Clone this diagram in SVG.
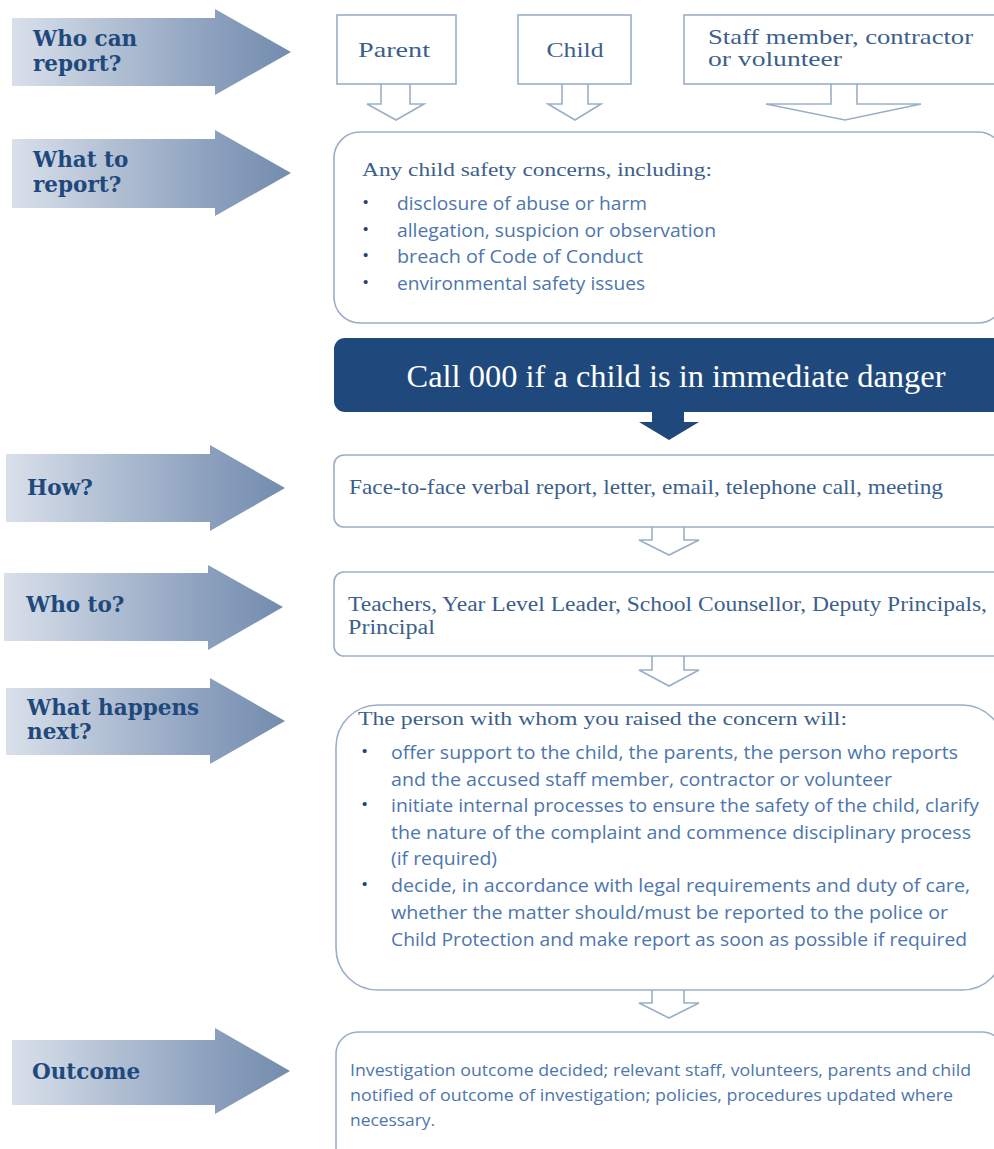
<svg xmlns="http://www.w3.org/2000/svg" width="994" height="1149" viewBox="0 0 994 1149">
<defs>
<linearGradient id="lg" x1="0" y1="0" x2="1" y2="0">
<stop offset="0" stop-color="#d9e0ea"/>
<stop offset="0.7" stop-color="#8ea2bf"/>
<stop offset="1" stop-color="#738cae"/>
</linearGradient>
<style>
.side{fill:url(#lg);}
.lbl{font-family:"DejaVu Serif",serif;font-weight:bold;font-size:21.5px;fill:#1f497d;}
.box{fill:#fff;stroke:#9aaec8;stroke-width:1.6;}
.con{fill:#fff;stroke:#9aaec8;stroke-width:1.6;stroke-linejoin:miter;}
.ser{font-family:"Liberation Serif",serif;fill:#3d5f8c;}
.san{font-family:"Open Sans","Liberation Sans",sans-serif;fill:#4d76ad;}
.bul{font-family:"Liberation Sans",sans-serif;font-size:15px;fill:#2a4468;}
</style>
</defs>
<rect width="994" height="1149" fill="#fff"/>

<g id="side-who-can-report">
<path class="side" d="M12,18 H215 V9 L291,52 L215,95 V86 H12 Z"/>
<text class="lbl" x="33" y="46">Who can</text>
<text class="lbl" x="33" y="71">report?</text>
</g>
<g id="side-what-to-report">
<path class="side" d="M12,139 H215 V130 L291,173 L215,216 V208 H12 Z"/>
<text class="lbl" x="33" y="167">What to</text>
<text class="lbl" x="33" y="192">report?</text>
</g>
<g id="side-how">
<path class="side" d="M6,454 H210 V445 L285,488 L210,531 V522 H6 Z"/>
<text class="lbl" x="27" y="495">How?</text>
</g>
<g id="side-who-to">
<path class="side" d="M4,573 H208 V565 L283,607 L208,650 V641 H4 Z"/>
<text class="lbl" x="26" y="612">Who to?</text>
</g>
<g id="side-what-next">
<path class="side" d="M6,688 H210 V678 L285,721 L210,764 V755 H6 Z"/>
<text class="lbl" x="27" y="715">What happens</text>
<text class="lbl" x="27" y="739">next?</text>
</g>
<g id="side-outcome">
<path class="side" d="M12,1040 H215 V1028 L290,1071 L215,1114 V1105 H12 Z"/>
<text class="lbl" x="32" y="1079">Outcome</text>
</g>

<g id="connectors">
<path class="con" d="M381,84 V104 H367 L396,120 L424,104 H410 V84"/>
<path class="con" d="M562,84 V104 H548 L575,120 L601,104 H588 V84"/>
<path class="con" d="M831,84 V104 H766 L845,120 L921,104 H857 V84"/>
<path d="M652,411 V422 H639 L669,440 L699,422 H684 V411 Z" fill="#1f497d"/>
<path class="con" d="M652,527 V540 H639 L669,555 L699,540 H684 V527"/>
<path class="con" d="M652,656 V670 H639 L669,686 L699,670 H684 V656"/>
<path class="con" d="M652,990 V1003 H639 L669,1018 L699,1003 H684 V990"/>
</g>

<g id="node-parent">
<rect class="box" x="337" y="15" width="119" height="69"/>
<text class="ser" x="394" y="57" font-size="21.5" text-anchor="middle" textLength="72" lengthAdjust="spacingAndGlyphs">Parent</text>
</g>
<g id="node-child">
<rect class="box" x="518" y="15" width="113" height="69"/>
<text class="ser" x="575" y="57" font-size="21.5" text-anchor="middle" textLength="57" lengthAdjust="spacingAndGlyphs">Child</text>
</g>
<g id="node-staff">
<rect class="box" x="684" y="15" width="320" height="69"/>
<text class="ser" x="708" y="44" font-size="21" textLength="265" lengthAdjust="spacingAndGlyphs">Staff member, contractor</text>
<text class="ser" x="708" y="66" font-size="21" textLength="134" lengthAdjust="spacingAndGlyphs">or volunteer</text>
</g>

<g id="node-what">
<rect class="box" x="334" y="132" width="670" height="191" rx="26"/>
<text class="ser" x="362" y="176" font-size="19" textLength="350" lengthAdjust="spacingAndGlyphs">Any child safety concerns, including:</text>
<text class="bul" x="363" y="207">•</text>
<text class="bul" x="363" y="234">•</text>
<text class="bul" x="363" y="260">•</text>
<text class="bul" x="363" y="287">•</text>
<text class="san" x="397" y="210" font-size="18" textLength="250" lengthAdjust="spacingAndGlyphs">disclosure of abuse or harm</text>
<text class="san" x="397" y="237" font-size="18" textLength="319" lengthAdjust="spacingAndGlyphs">allegation, suspicion or observation</text>
<text class="san" x="397" y="263" font-size="18" textLength="246" lengthAdjust="spacingAndGlyphs">breach of Code of Conduct</text>
<text class="san" x="397" y="290" font-size="18" textLength="248" lengthAdjust="spacingAndGlyphs">environmental safety issues</text>
</g>

<g id="node-call000">
<rect x="334" y="338" width="680" height="74" rx="11" fill="#1f497d"/>
<text x="676" y="387" font-family="Liberation Serif, serif" font-size="31" fill="#fff" text-anchor="middle" textLength="539" lengthAdjust="spacingAndGlyphs">Call 000 if a child is in immediate danger</text>
</g>

<g id="node-how">
<rect class="box" x="334" y="455" width="670" height="72" rx="10"/>
<text class="ser" x="349" y="494" font-size="21" textLength="594" lengthAdjust="spacingAndGlyphs">Face-to-face verbal report, letter, email, telephone call, meeting</text>
</g>

<g id="node-who">
<rect class="box" x="334" y="572" width="670" height="84" rx="10"/>
<text class="ser" x="348" y="611" font-size="20" textLength="639" lengthAdjust="spacingAndGlyphs">Teachers, Year Level Leader, School Counsellor, Deputy Principals,</text>
<text class="ser" x="348" y="634" font-size="20" textLength="87" lengthAdjust="spacingAndGlyphs">Principal</text>
</g>

<g id="node-next">
<rect class="box" x="336" y="705" width="668" height="285" rx="42"/>
<text class="ser" x="358" y="725" font-size="19.5" textLength="489" lengthAdjust="spacingAndGlyphs">The person with whom you raised the concern will:</text>
<text class="bul" x="362" y="756">•</text>
<text class="bul" x="362" y="809">•</text>
<text class="bul" x="362" y="889">•</text>
<text class="san" x="391" y="759" font-size="18" textLength="567" lengthAdjust="spacingAndGlyphs">offer support to the child, the parents, the person who reports</text>
<text class="san" x="391" y="786" font-size="18" textLength="501" lengthAdjust="spacingAndGlyphs">and the accused staff member, contractor or volunteer</text>
<text class="san" x="391" y="812" font-size="18" textLength="588" lengthAdjust="spacingAndGlyphs">initiate internal processes to ensure the safety of the child, clarify</text>
<text class="san" x="391" y="839" font-size="18" textLength="580" lengthAdjust="spacingAndGlyphs">the nature of the complaint and commence disciplinary process</text>
<text class="san" x="391" y="865" font-size="18" textLength="106" lengthAdjust="spacingAndGlyphs">(if required)</text>
<text class="san" x="391" y="892" font-size="18" textLength="579" lengthAdjust="spacingAndGlyphs">decide, in accordance with legal requirements and duty of care,</text>
<text class="san" x="391" y="919" font-size="18" textLength="557" lengthAdjust="spacingAndGlyphs">whether the matter should/must be reported to the police or</text>
<text class="san" x="391" y="946" font-size="18" textLength="576" lengthAdjust="spacingAndGlyphs">Child Protection and make report as soon as possible if required</text>
</g>

<g id="node-outcome">
<rect class="box" x="336" y="1032" width="668" height="140" rx="22"/>
<text class="san" x="350" y="1076" font-size="15.5" textLength="621" lengthAdjust="spacingAndGlyphs">Investigation outcome decided; relevant staff, volunteers, parents and child</text>
<text class="san" x="350" y="1101" font-size="15.5" textLength="603" lengthAdjust="spacingAndGlyphs">notified of outcome of investigation; policies, procedures updated where</text>
<text class="san" x="350" y="1126" font-size="15.5" textLength="85" lengthAdjust="spacingAndGlyphs">necessary.</text>
</g>
</svg>
